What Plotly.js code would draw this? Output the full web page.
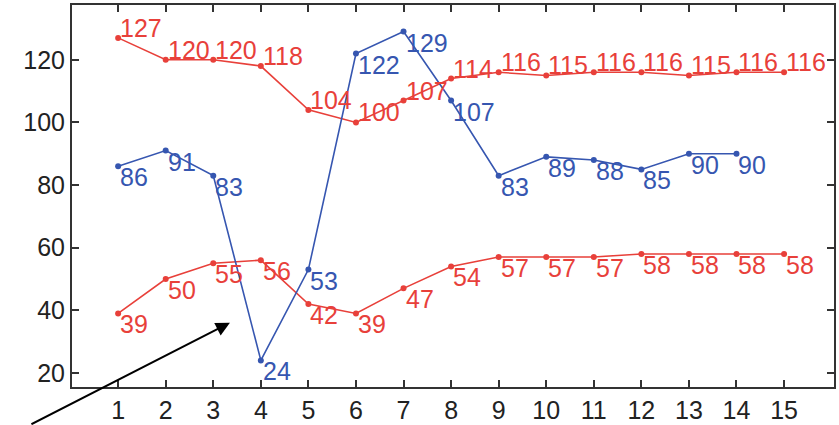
<!DOCTYPE html>
<html>
<head>
<meta charset="utf-8">
<script src="https://cdn.plot.ly/plotly-3.0.1.min.js"></script>
<style>html,body{margin:0;padding:0;background:#fff;}#chart{width:839px;height:425px;}</style>
</head>
<body>
<div id="chart"></div>
<script>
const xCats = [1,2,3,4,5,6,7,8,9,10,11,12,13,14,15];
const xBlue = [1,2,3,4,5,6,7,8,9,10,11,12,13,14];
const blueVals = [86,91,83,24,53,122,129,107,83,89,88,85,90,90];
const redTop = [127,120,120,118,104,100,107,114,116,115,116,116,115,116,116];
const redBottom = [39,50,55,56,42,39,47,54,57,57,57,58,58,58,58];
const yTicks = [20,40,60,80,100,120];

const FONT = '"Liberation Sans", Arial, sans-serif';
const RED = '#e8403a';
const BLUE = '#3656b0';

function series(x, y, color) {
  return {
    x: x, y: y, type: 'scatter', mode: 'lines+markers',
    line: {color: color, width: 1.6},
    marker: {color: color, size: 6},
    cliponaxis: false, hoverinfo: 'skip', showlegend: false
  };
}

function labels(x, y, color, above) {
  return x.map((xv, i) => ({
    x: xv, y: y[i], xref: 'x', yref: 'y', text: String(y[i]),
    showarrow: false, xanchor: 'left', yanchor: 'middle',
    xshift: 0, yshift: above ? 10 : -11,
    font: {family: FONT, size: 25, color: color}
  }));
}

const data = [
  series(xCats, redTop, RED),
  series(xCats, redBottom, RED),
  series(xBlue, blueVals, BLUE)
];

const annotations = []
  .concat(labels(xCats, redTop, RED, true))
  .concat(labels(xCats, redBottom, RED, false))
  .concat(labels(xBlue, blueVals, BLUE, false));

annotations.push({
  x: 3.35, y: 36, xref: 'x', yref: 'y',
  ax: -200, ay: 105, axref: 'pixel', ayref: 'pixel',
  showarrow: true, arrowhead: 2, arrowsize: 1.4, arrowwidth: 2,
  arrowcolor: '#000', text: ''
});

const layout = {
  width: 839, height: 425,
  margin: {l: 72, r: 5, t: 5, b: 38},
  paper_bgcolor: '#fff', plot_bgcolor: '#fff',
  font: {family: FONT, size: 25, color: '#222'},
  xaxis: {
    range: [0.03, 16.05], tickvals: xCats, ticktext: xCats.map(String),
    ticks: 'inside', ticklen: 7, tickwidth: 2, tickcolor: '#333',
    showline: true, linecolor: '#333', linewidth: 2, mirror: 'allticks',
    showgrid: false, zeroline: false,
    tickfont: {family: FONT, size: 25, color: '#222'}
  },
  yaxis: {
    range: [15.5, 137.5], tickvals: yTicks, ticktext: yTicks.map(String),
    ticks: 'inside', ticklen: 7, tickwidth: 2, tickcolor: '#333',
    showline: true, linecolor: '#333', linewidth: 2, mirror: 'allticks',
    showgrid: false, zeroline: false,
    tickfont: {family: FONT, size: 25, color: '#222'}
  },
  annotations: annotations
};

Plotly.newPlot('chart', data, layout, {displayModeBar: false, staticPlot: true});
</script>
</body>
</html>
